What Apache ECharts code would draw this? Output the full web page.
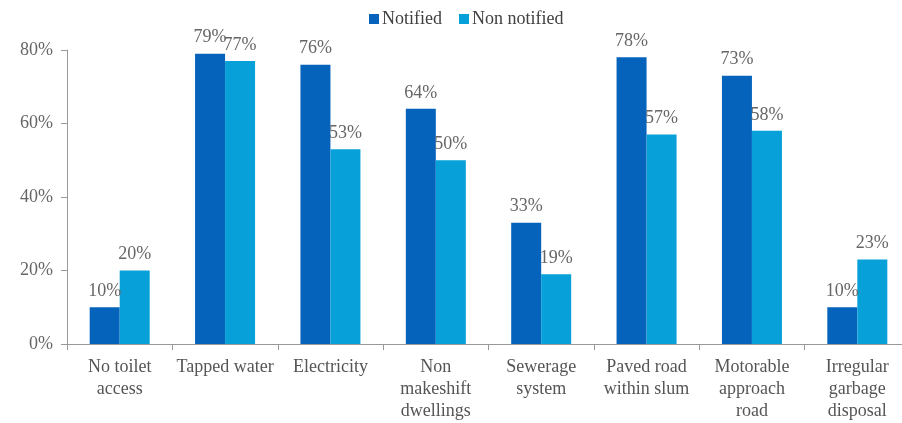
<!DOCTYPE html>
<html><head><meta charset="utf-8">
<script src="https://cdn.jsdelivr.net/npm/echarts@6/dist/echarts.min.js"></script>
<style>html,body{margin:0;padding:0;background:#fff;overflow:hidden}#c{width:912px;height:423px}</style>
</head><body><div id="c"></div>
<script>
const categories = ["No toilet\naccess","Tapped water","Electricity","Non\nmakeshift\ndwellings","Sewerage\nsystem","Paved road\nwithin slum","Motorable\napproach\nroad","Irregular\ngarbage\ndisposal"];
const notified = [10,79,76,64,33,78,73,10];
const nonNotified = [20,77,53,50,19,57,58,23];
const yTicks = [0,20,40,60,80];
const FONT = '"Liberation Serif","Times New Roman",serif';
const chart = echarts.init(document.getElementById('c'));
const lbl = {show:true, position:'top', distance:7, color:'#666', fontFamily:FONT, fontSize:18, formatter:p=>p.value+'%'};
chart.setOption({
  animation:false,
  legend:{top:5, left:364, itemWidth:10, itemHeight:10, itemGap:17, icon:'rect',
    textStyle:{fontFamily:FONT, fontSize:18, color:'#404040', padding:[0,0,0,-2]}, data:['Notified','Non notified']},
  grid:{left:67, top:50, width:843, height:294},
  xAxis:{type:'category', data:categories,
    axisLine:{lineStyle:{color:'#999'}}, axisTick:{show:true, length:6, lineStyle:{color:'#999'}},
    axisLabel:{interval:0, color:'#555', fontFamily:FONT, fontSize:18, lineHeight:22, margin:12}},
  yAxis:{type:'value', min:yTicks[0], max:yTicks[yTicks.length-1], interval:20,
    splitLine:{show:false},
    axisLine:{show:true, lineStyle:{color:'#999'}}, axisTick:{show:true, length:6, lineStyle:{color:'#999'}},
    axisLabel:{color:'#666', fontFamily:FONT, fontSize:18, margin:14, formatter:v=>v+'%'}},
  series:[
    {name:'Notified', type:'bar', data:notified, barWidth:30, barGap:'0%', itemStyle:{color:'#0563BB'}, label:lbl},
    {name:'Non notified', type:'bar', data:nonNotified, barWidth:30, barGap:'0%', itemStyle:{color:'#07A0D8'}, label:lbl}
  ]
});
</script></body></html>
